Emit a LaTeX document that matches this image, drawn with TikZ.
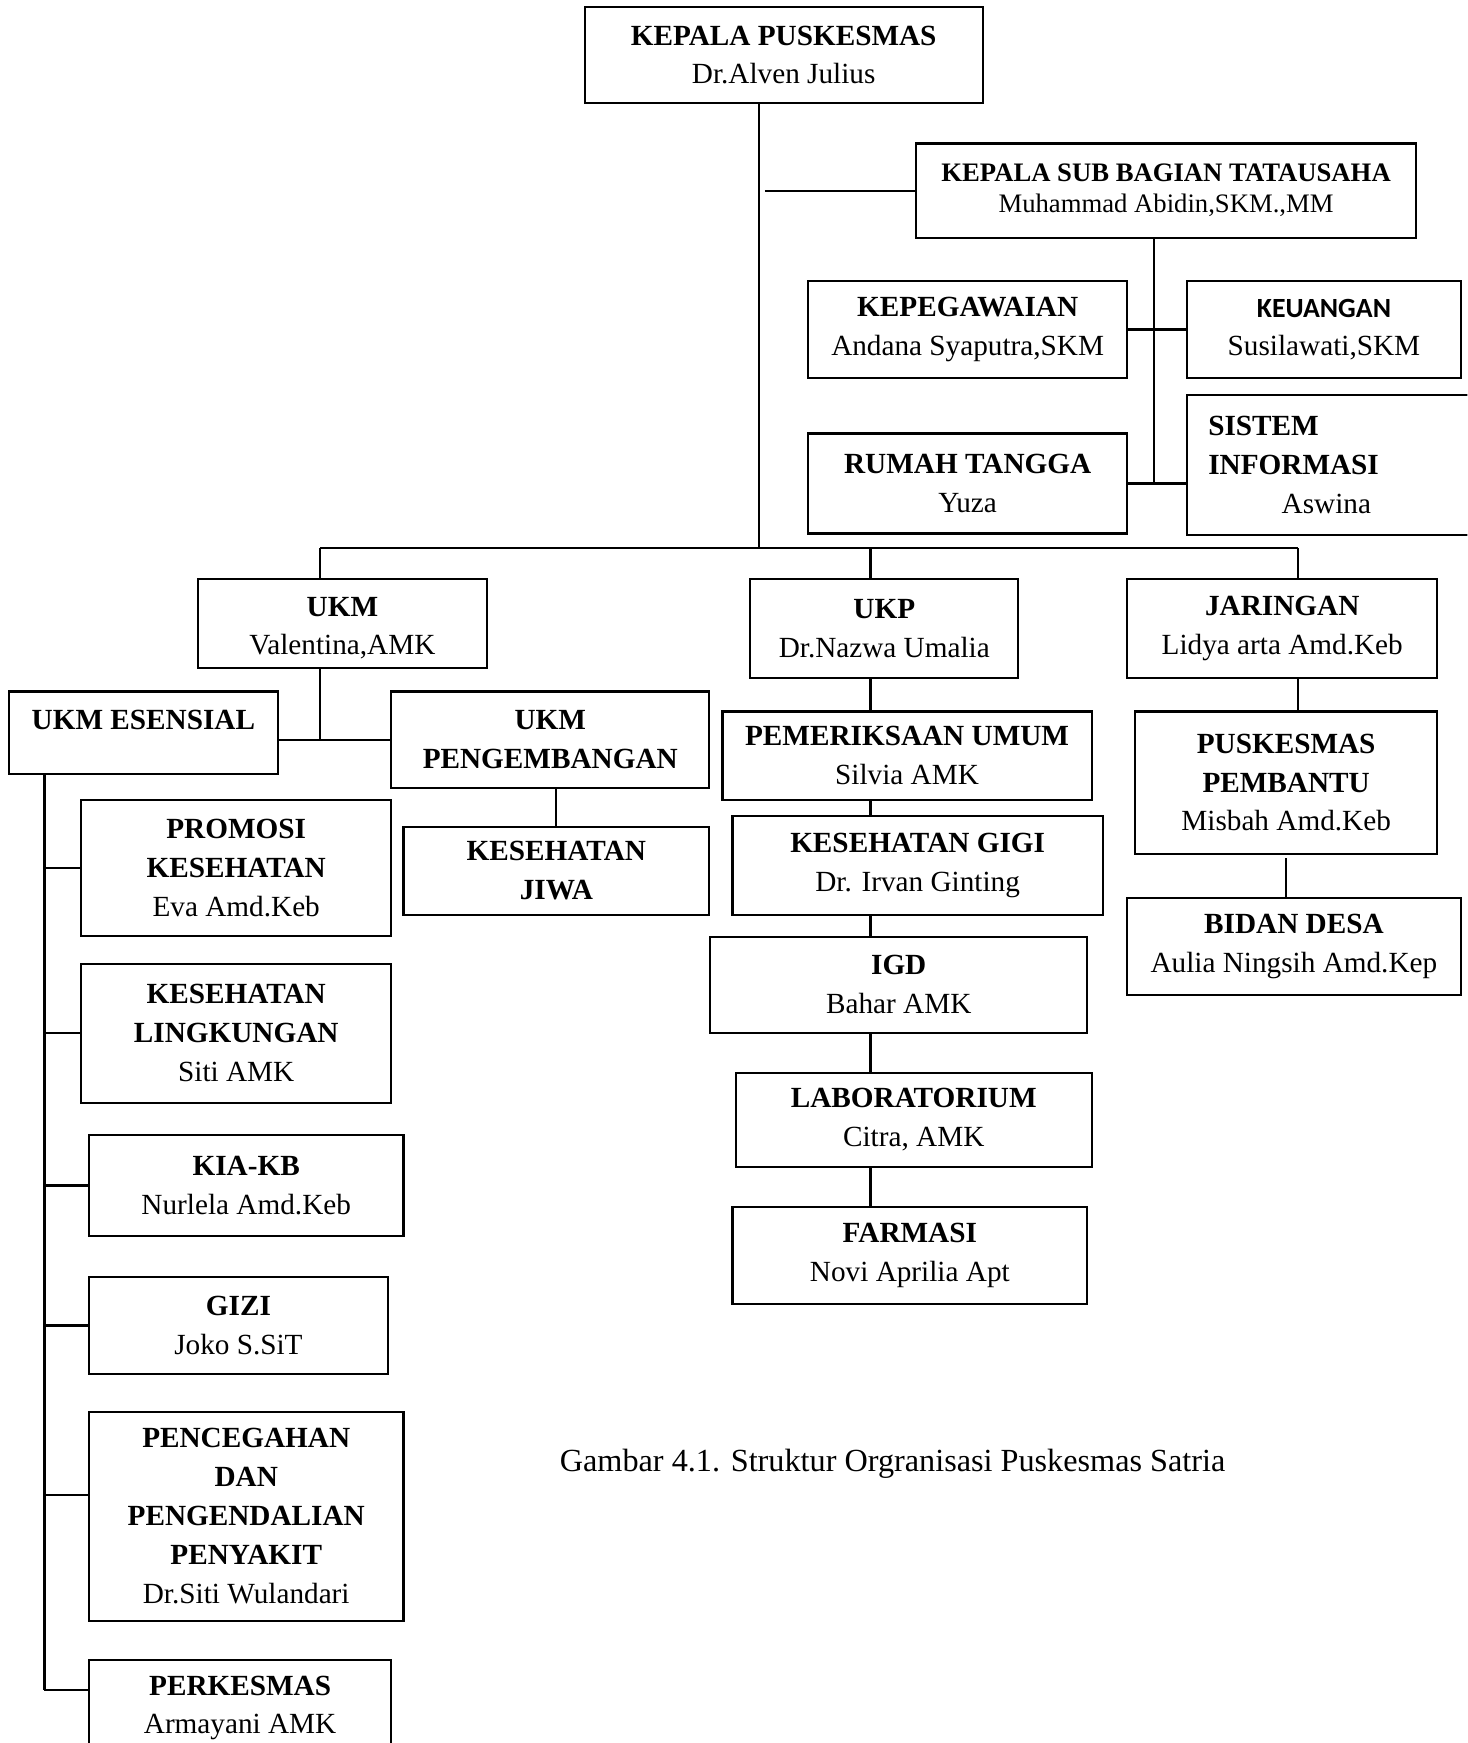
\documentclass[tikz,border=0pt]{standalone}
\usepackage{fontspec}
\setmainfont{Liberation Serif}
\newfontfamily\calib{Carlito}
\begin{document}
\begin{tikzpicture}[x=1pt,y=-1pt,
  box/.style={draw, line width=2pt, inner sep=0pt, align=center, font=\fontsize{26.3}{35}\selectfont},
  ln/.style={line width=2pt}]
\useasboundingbox (0,0) rectangle (1320,1568);
\clip (0,0) rectangle (1320,1568);
\fill[white] (0,0) rectangle (1320,1568);
% top
\node[box, minimum width=358pt, minimum height=87pt] (kepala) at (705,49.5) {\textbf{KEPALA PUSKESMAS}\\Dr.Alven Julius};
\node[box, minimum width=450pt, minimum height=85pt, font=\fontsize{24}{28}\selectfont] (tu) at (1049,171.5) {\textbf{KEPALA SUB BAGIAN TATAUSAHA}\\Muhammad Abidin,SKM.,MM};
\node[box, minimum width=287pt, minimum height=87pt] (kepeg) at (870.5,296.5) {\textbf{KEPEGAWAIAN}\\Andana Syaputra,SKM};
\node[box, minimum width=246pt, minimum height=87pt] (keu) at (1191,296.5) {{\fontsize{25}{35}\selectfont\calib\bfseries KEUANGAN}\\Susilawati,SKM};
\node[box, minimum width=287pt, minimum height=90pt] (rumah) at (870.5,435) {\textbf{RUMAH TANGGA}\\Yuza};
\node[box, minimum width=277pt, minimum height=126pt, align=left, text width=239pt] (sistem) at (1206.5,418) {\textbf{SISTEM}\\\textbf{INFORMASI}\\\hspace*{66pt}Aswina};
% level 2
\node[box, minimum width=260pt, minimum height=80pt] (ukm) at (308,561) {\rule{0pt}{25.5pt}\textbf{UKM}\\Valentina,AMK};
\node[box, minimum width=241pt, minimum height=89pt] (ukp) at (795.5,565.5) {\textbf{UKP}\\Dr.Nazwa Umalia};
\node[box, minimum width=279pt, minimum height=89pt] (jar) at (1153.5,565.5) {\textbf{JARINGAN}\\Lidya arta Amd.Keb};
% UKM branch
\node[box, minimum width=242pt, minimum height=74pt] (esensial) at (129,659) {\raisebox{2.5pt}[0pt][0pt]{\textbf{UKM ESENSIAL}}};
\node[box, minimum width=286pt, minimum height=87pt] (peng) at (495,665.5) {\textbf{UKM}\\\textbf{PENGEMBANGAN}};
\node[box, minimum width=275pt, minimum height=79pt] (jiwa) at (500.5,783.5) {\textbf{KESEHATAN}\\\textbf{JIWA}};
\node[box, minimum width=279pt, minimum height=122pt] (promosi) at (212.5,781) {\textbf{PROMOSI}\\\textbf{KESEHATAN}\\Eva Amd.Keb};
\node[box, minimum width=279pt, minimum height=125pt] (lingk) at (212.5,929.5) {\textbf{KESEHATAN}\\\textbf{LINGKUNGAN}\\Siti AMK};
\node[box, minimum width=283pt, minimum height=91pt] (kia) at (221.5,1066.5) {\textbf{KIA-KB}\\Nurlela Amd.Keb};
\node[box, minimum width=269pt, minimum height=87pt] (gizi) at (214.5,1192.5) {\textbf{GIZI}\\Joko S.SiT};
\node[box, minimum width=283pt, minimum height=188pt] (p2p) at (221.5,1364) {\textbf{PENCEGAHAN}\\\textbf{DAN}\\\textbf{PENGENDALIAN}\\\textbf{PENYAKIT}\\Dr.Siti Wulandari};
\node[box, minimum width=272pt, minimum height=87pt] (perk) at (216,1536.5) {\textbf{PERKESMAS}\\Armayani AMK};
% UKP branch
\node[box, minimum width=332pt, minimum height=80pt] (pem) at (816,680) {\textbf{PEMERIKSAAN UMUM}\\Silvia AMK};
\node[box, minimum width=333pt, minimum height=89pt] (gigi) at (825.5,778.5) {\textbf{KESEHATAN GIGI}\\Dr. Irvan Ginting};
\node[box, minimum width=339pt, minimum height=86pt] (igd) at (808.5,886) {\textbf{IGD}\\Bahar AMK};
\node[box, minimum width=320pt, minimum height=85pt] (lab) at (822,1007.5) {\textbf{LABORATORIUM}\\Citra, AMK};
\node[box, minimum width=319pt, minimum height=87pt] (farmasi) at (818.5,1129.5) {\textbf{FARMASI}\\Novi Aprilia Apt};
% Jaringan branch
\node[box, minimum width=272pt, minimum height=128pt] (pusk) at (1157,704) {\textbf{PUSKESMAS}\\\textbf{PEMBANTU}\\Misbah Amd.Keb};
\node[box, minimum width=300pt, minimum height=87pt] (bidan) at (1164,851.5) {\textbf{BIDAN DESA}\\Aulia Ningsih Amd.Kep};
% caption
\node[font=\fontsize{29}{35}\selectfont, inner sep=0pt] (cap) at (803,1317) {Gambar 4.1. Struktur Orgranisasi Puskesmas Satria};
% connectors
\coordinate (trunk) at (683,493);
\draw[ln] (kepala.south -| trunk) -- (trunk);
\draw[ln] ([xshift=5pt]trunk |- tu.west) -- (tu.west);
\coordinate (tub) at (1038,434);
\draw[ln] (tu.south -| tub) -- (tub);
\draw[ln] (kepeg.east) -- (keu.west);
\draw[ln] (rumah.east) -- (rumah.east -| sistem.west);
\coordinate (bl) at (288,493);
\coordinate (bm) at (783,493);
\coordinate (br) at (1168,493);
\draw[ln] (bl) -- (br);
\draw[ln] (bl) -- (bl |- ukm.north);
\draw[ln] (bm) -- (bm |- ukp.north);
\draw[ln] (br) -- (br |- jar.north);
\coordinate (uj) at (288,666);
\draw[ln] (ukm.south -| uj) -- (uj);
\draw[ln] (esensial.east |- uj) -- (peng.west |- uj);
\draw[ln] (peng.south -| jiwa.north) -- (jiwa.north);
\coordinate (ex) at (40,1520);
\coordinate (pb) at (40,1345);
\draw[ln] (esensial.south -| ex) -- (ex);
\draw[ln] (ex |- promosi.west) -- (promosi.west);
\draw[ln] (ex |- lingk.west) -- (lingk.west);
\draw[ln] (ex |- kia.west) -- (kia.west);
\draw[ln] (ex |- gizi.west) -- (gizi.west);
\draw[ln] (pb) -- (pb -| p2p.west);
\draw[ln] (ex) -- (ex -| perk.west);
\draw[ln] (ukp.south -| bm) -- (pem.north -| bm);
\draw[ln] (pem.south -| bm) -- (gigi.north -| bm);
\draw[ln] (gigi.south -| bm) -- (igd.north -| bm);
\draw[ln] (igd.south -| bm) -- (lab.north -| bm);
\draw[ln] (lab.south -| bm) -- (farmasi.north -| bm);
\draw[ln] (jar.south -| br) -- (pusk.north -| br);
\draw[ln] ([yshift=-3pt]pusk.south) -- (bidan.north -| pusk.south);
\end{tikzpicture}
\end{document}
